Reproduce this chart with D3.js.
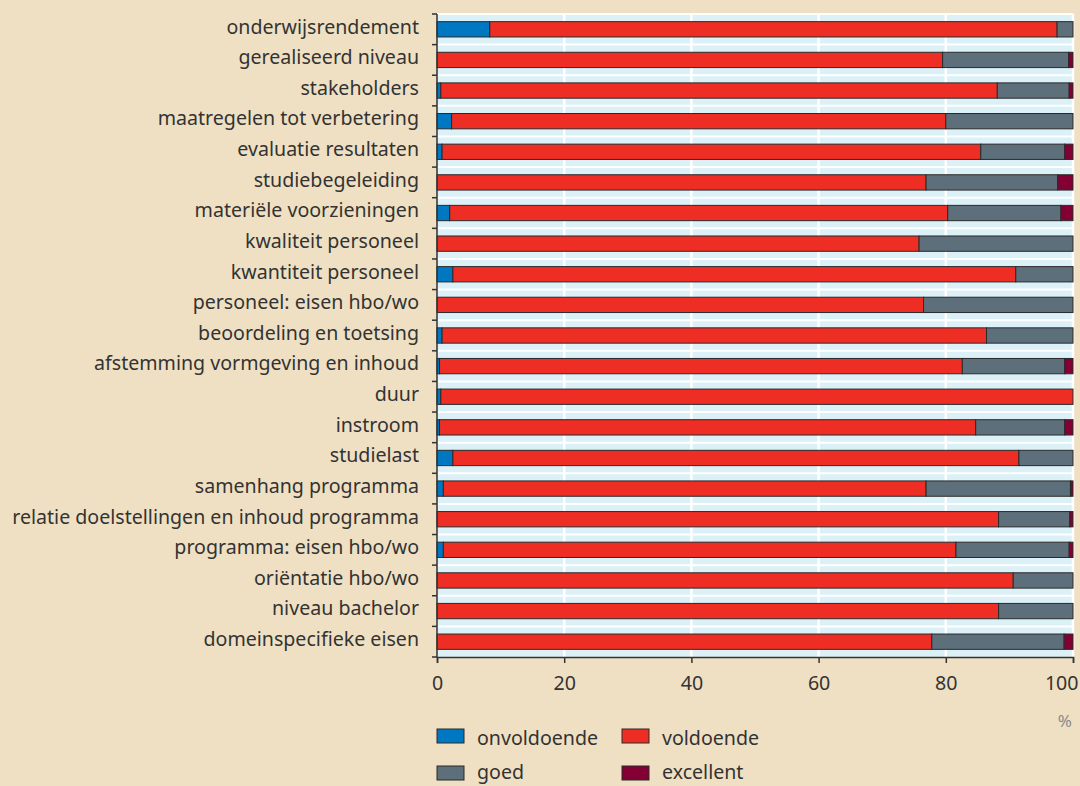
<!DOCTYPE html>
<html><head><meta charset="utf-8">
<script src="https://cdn.jsdelivr.net/npm/d3@7"></script>
<style>
html,body{margin:0;padding:0;background:#efe0c3;}
svg{display:block;}
text{font-family:"Noto Sans",sans-serif;fill:#333;}
</style></head>
<body>
<svg id="chart" width="1080" height="786"></svg>
<script>
const categories = ["onderwijsrendement","gerealiseerd niveau","stakeholders","maatregelen tot verbetering","evaluatie resultaten","studiebegeleiding","materiële voorzieningen","kwaliteit personeel","kwantiteit personeel","personeel: eisen hbo/wo","beoordeling en toetsing","afstemming vormgeving en inhoud","duur","instroom","studielast","samenhang programma","relatie doelstellingen en inhoud programma","programma: eisen hbo/wo","oriëntatie hbo/wo","niveau bachelor","domeinspecifieke eisen"];
const onvoldoende = [8.3,0,0.6,2.3,0.8,0,2.0,0,2.5,0,0.8,0.4,0.6,0.4,2.5,1.0,0,1.0,0,0,0];
const voldoende   = [89.2,79.5,87.5,77.7,84.7,76.9,78.3,75.8,88.5,76.5,85.6,82.2,99.4,84.3,89.0,75.9,88.3,80.6,90.6,88.3,77.8];
const goed        = [2.5,19.8,11.3,20.0,13.2,20.7,17.8,24.2,9.0,23.5,13.6,16.1,0,14.0,8.5,22.7,11.2,17.8,9.4,11.7,20.8];
const excellent   = [0,0.7,0.6,0,1.3,2.4,1.9,0,0,0,0,1.3,0,1.3,0,0.4,0.5,0.6,0,0,1.4];
const seriesNames = ["onvoldoende","voldoende","goed","excellent"];
const seriesColors = ["#0077c1","#ee2e24","#5d6f7a","#820034"];
const xTicks = [0,20,40,60,80,100];

(function(){
const rows = categories.map((c,i)=>({cat:c, onvoldoende:onvoldoende[i], voldoende:voldoende[i], goed:goed[i], excellent:excellent[i]}));
const stacked = d3.stack().keys(seriesNames)(rows);

const svg = d3.select("#chart");
const pL = 437, pR = 1073, pT = 14, pB = 657;
const fs = "19.6px";
const x = d3.scaleLinear().domain([0,100]).range([pL,pR]);
const y = d3.scaleBand().domain(categories).range([pT,pB]).paddingInner(0.5).paddingOuter(0.25);
const yb = d3.scaleBand().domain(categories).range([pT,pB]);

svg.append("rect").attr("x",pL).attr("y",pT).attr("width",pR-pL).attr("height",pB-pT).attr("fill","#dcf0f7");
svg.append("g").selectAll("line").data(categories).join("line")
  .attr("x1",pL).attr("x2",pR)
  .attr("y1",d=>yb(d)).attr("y2",d=>yb(d))
  .attr("stroke","#fff").attr("stroke-width",2);
svg.append("g").selectAll("line").data(xTicks.slice(1)).join("line")
  .attr("x1",d=>x(d)).attr("x2",d=>x(d)).attr("y1",pT).attr("y2",pB)
  .attr("stroke","#fff").attr("stroke-width",2.5);

svg.append("g").selectAll("g").data(stacked).join("g")
  .attr("fill",(d,i)=>seriesColors[i])
  .selectAll("rect").data(d=>d.filter(v=>v[1]-v[0]>0)).join("rect")
  .attr("x",d=>x(d[0])).attr("width",d=>x(d[1])-x(d[0]))
  .attr("y",d=>y(d.data.cat)).attr("height",y.bandwidth())
  .attr("stroke","#2a2a2a").attr("stroke-width",1);

const yAxisScale = d3.scalePoint().domain(d3.range(categories.length+1)).range([pT,pB]);
const yAxis = svg.append("g").attr("transform",`translate(${pL},0)`);
yAxis.append("line").attr("x1",0).attr("x2",0).attr("y1",pT).attr("y2",pB).attr("stroke","#333").attr("stroke-width",1.5);
yAxis.selectAll("line.t").data(d3.range(categories.length+1)).join("line").attr("class","t")
  .attr("x1",-5).attr("x2",0).attr("y1",d=>yAxisScale(d)).attr("y2",d=>yAxisScale(d)).attr("stroke","#333").attr("stroke-width",1.5);
yAxis.selectAll("text").data(categories).join("text")
  .attr("x",-18).attr("y",d=>yb(d)+yb.bandwidth()/2).attr("dy","0.22em")
  .attr("text-anchor","end").style("font-size",fs).text(d=>d);

const xAxis = svg.append("g").attr("transform",`translate(0,${pB})`)
  .call(d3.axisBottom(x).tickValues(xTicks).tickSize(6).tickPadding(13).tickFormat(d3.format("d")));
xAxis.select(".domain").attr("stroke","#333").attr("stroke-width",1.5);
xAxis.selectAll(".tick line").attr("stroke","#333").attr("stroke-width",1.5);
xAxis.selectAll("text").style("font-size",fs).style("font-family","'Noto Sans',sans-serif").attr("fill","#333");
xAxis.selectAll(".tick text").filter(d=>d===100).attr("text-anchor","end").attr("dx","5");

svg.append("text").attr("x",1072).attr("y",727).attr("text-anchor","end").style("font-size","17px").style("fill","#8a8a8a").text("%");

const legendPos = [[437,729],[622,729],[437,766],[622,766]];
const lg = svg.append("g").selectAll("g").data(seriesNames).join("g")
  .attr("transform",(d,i)=>`translate(${legendPos[i][0]},${legendPos[i][1]})`);
lg.append("rect").attr("width",27).attr("height",14).attr("fill",(d,i)=>seriesColors[i]).attr("stroke","#2a2a2a").attr("stroke-width",1);
lg.append("text").attr("x",40).attr("y",7).attr("dy",(d,i)=>i<2?"0.45em":"0.32em").style("font-size",fs).text(d=>d);
})();
</script>
</body></html>
